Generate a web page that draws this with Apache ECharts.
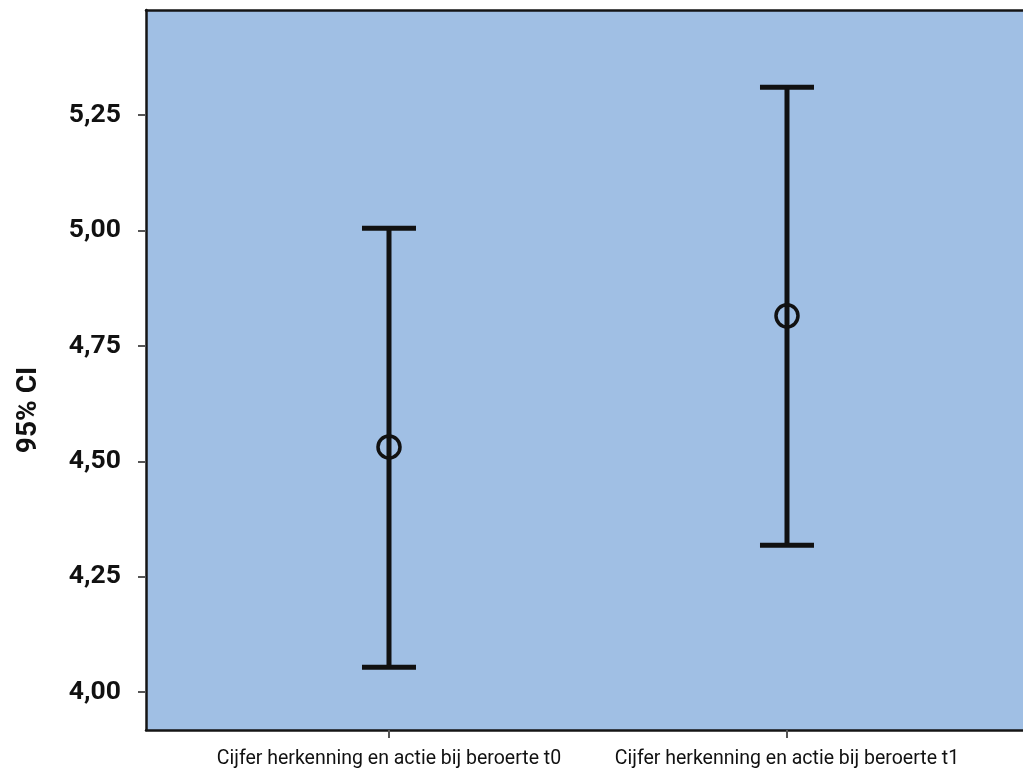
<!DOCTYPE html>
<html><head><meta charset="utf-8">
<script src="https://cdn.jsdelivr.net/npm/echarts@6/dist/echarts.min.js"></script>
<style>html,body{margin:0;padding:0;background:#fff}#c{width:1023px;height:770px}</style>
</head><body><div id="c"></div>
<script>
const categories = ['Cijfer herkenning en actie bij beroerte t0', 'Cijfer herkenning en actie bij beroerte t1'];
const means = [4.531, 4.815];
const lowers = [4.054, 4.318];
const uppers = [5.005, 5.310];
const yTicks = [4.00, 4.25, 4.50, 4.75, 5.00, 5.25];
const xPos = [1, 2];
const yTitle = '95% CI';

const chart = echarts.init(document.getElementById('c'));
chart.setOption({
  animation: false,
  grid: {left: 146, top: 10, right: 0, bottom: 40, show: true, backgroundColor: '#a0bfe4', borderWidth: 0},
  graphic: [{
    type: 'text', x: 29, y: 410, rotation: Math.PI / 2,
    style: {text: yTitle, fontFamily: 'Roboto', fontWeight: 'bold', fontSize: 28, fill: '#111', align: 'center', verticalAlign: 'middle'}
  }],
  xAxis: [{
    type: 'value', min: 0.38945, max: 2.593,
    splitLine: {show: false},
    axisLine: {show: true, lineStyle: {color: '#151515', width: 2.5}},
    axisTick: {show: true, customValues: xPos, length: 8, inside: false, lineStyle: {color: '#555', width: 2}},
    axisLabel: {customValues: xPos, formatter: v => categories[Math.round(v) - 1], fontFamily: 'Roboto', fontSize: 19.5, color: '#111', margin: 19}
  }, {
    type: 'value', position: 'top', min: 0.38945, max: 2.593,
    splitLine: {show: false},
    axisLine: {show: true, lineStyle: {color: '#151515', width: 2.5}},
    axisTick: {show: false}, axisLabel: {show: false}
  }],
  yAxis: {
    type: 'value', min: 3.918, max: 5.4775,
    splitLine: {show: false},
    axisLine: {show: true, lineStyle: {color: '#151515', width: 2.5}},
    axisTick: {show: true, customValues: yTicks, length: 8, lineStyle: {color: '#555', width: 2}},
    axisLabel: {customValues: yTicks, formatter: v => v.toFixed(2).replace('.', ','), fontFamily: 'Roboto', fontWeight: 'bold', fontSize: 26.5, color: '#111', margin: 25, padding: [4, 0, 0, 0]}
  },
  series: [
    {
      type: 'custom',
      data: xPos.map((x, i) => [x, lowers[i], uppers[i]]),
      renderItem: function (params, api) {
        const lo = api.coord([api.value(0), api.value(1)]);
        const hi = api.coord([api.value(0), api.value(2)]);
        const hw = 27;
        const st = {stroke: '#111', lineWidth: 5};
        return {type: 'group', children: [
          {type: 'line', shape: {x1: hi[0], y1: hi[1], x2: lo[0], y2: lo[1]}, style: st},
          {type: 'line', shape: {x1: hi[0] - hw, y1: hi[1], x2: hi[0] + hw, y2: hi[1]}, style: st},
          {type: 'line', shape: {x1: lo[0] - hw, y1: lo[1], x2: lo[0] + hw, y2: lo[1]}, style: st}
        ]};
      },
      z: 2
    },
    {
      type: 'scatter',
      data: xPos.map((x, i) => [x, means[i]]),
      symbol: 'circle', symbolSize: 22,
      itemStyle: {color: 'rgba(0,0,0,0)', borderColor: '#111', borderWidth: 3.5, opacity: 1},
      z: 3
    }
  ]
});
</script></body></html>
